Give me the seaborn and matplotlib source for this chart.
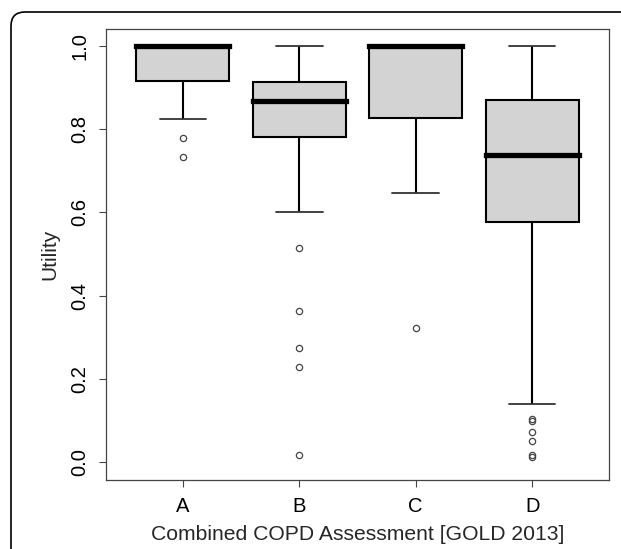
import numpy as np
import pandas as pd
import matplotlib
matplotlib.use('Agg')
import matplotlib.pyplot as plt
import seaborn as sns
from matplotlib.patches import FancyBboxPatch
from matplotlib.transforms import IdentityTransform

# Valores (resumen de cada caja)
grupos = ['A', 'B', 'C', 'D']
bigote_inf = [0.824, 0.602, 0.648, 0.139]
q1 = [0.915, 0.781, 0.826, 0.578]
mediana = [1.0, 0.869, 1.0, 0.737]
q3 = [1.0, 0.914, 1.0, 0.871]
bigote_sup = [1.0, 1.0, 1.0, 1.0]
atipicos = [
    [0.734, 0.780],
    [0.017, 0.229, 0.275, 0.364, 0.514],
    [0.322],
    [0.012, 0.016, 0.050, 0.073, 0.098, 0.104],
]
y_ticks = [0.0, 0.2, 0.4, 0.6, 0.8, 1.0]


def _muestra(lo, a, m, b, hi, out):
    # n = 4k+1 puntos: los cuartiles caen justo en los valores leidos
    k = len(out) + 1
    return list(out) + [lo] + [a] * k + [m] * k + [b] * k + [hi]


filas = []
for i, g in enumerate(grupos):
    for v in _muestra(bigote_inf[i], q1[i], mediana[i], q3[i], bigote_sup[i], atipicos[i]):
        filas.append({'Grupo': g, 'Utility': v})
df = pd.DataFrame(filas)

sns.set_theme(style="white")
plt.rcParams['font.family'] = ['Liberation Sans', 'DejaVu Sans']

fig = plt.figure(figsize=(6.21, 5.49), dpi=100)
ax = fig.add_axes([106 / 621, 69 / 549, 503 / 621, 451 / 549])

sns.boxplot(data=df, x='Grupo', y='Utility', order=grupos, ax=ax,
            color='#d3d3d3', saturation=1, width=0.8, linewidth=1.5,
            linecolor='black', fliersize=4.5,
            medianprops={'linewidth': 3.8, 'color': 'black', 'solid_capstyle': 'projecting'},
            whiskerprops={'linewidth': 1.5, 'color': 'black'},
            capprops={'linewidth': 1.3, 'color': '#333333'},
            flierprops={'marker': 'o', 'markerfacecolor': 'none',
                        'markeredgecolor': '#444444', 'markeredgewidth': 0.9})

ax.set_xlim(-0.66, 3.66)
ax.set_ylim(-0.043, 1.041)
ax.set_yticks(y_ticks)
ax.set_yticklabels([f'{t:.1f}' for t in y_ticks], rotation=90, va='center')
ax.set_xticks(range(len(grupos)))
ax.set_xticklabels(grupos)
ax.tick_params(axis='both', direction='out', length=5, width=0.8, color='#444444',
               labelsize=14.5, labelcolor='black', bottom=True, left=True)
ax.tick_params(axis='y', pad=7)
ax.tick_params(axis='x', pad=7)
for s in ax.spines.values():
    s.set_color('#444444')
    s.set_linewidth(0.9)

ax.set_xlabel('Combined COPD Assessment [GOLD 2013]', fontsize=15.2, labelpad=7)
ax.set_ylabel('Utility', fontsize=15, labelpad=8)

# marco redondeado exterior (sale por la derecha y por abajo)
marco = FancyBboxPatch((11, -30), 700, 567, boxstyle='round,pad=0,rounding_size=14',
                       transform=IdentityTransform(), fill=False,
                       edgecolor='black', linewidth=1.2)
fig.add_artist(marco)

plt.savefig('out.png', dpi=100)
plt.close()
